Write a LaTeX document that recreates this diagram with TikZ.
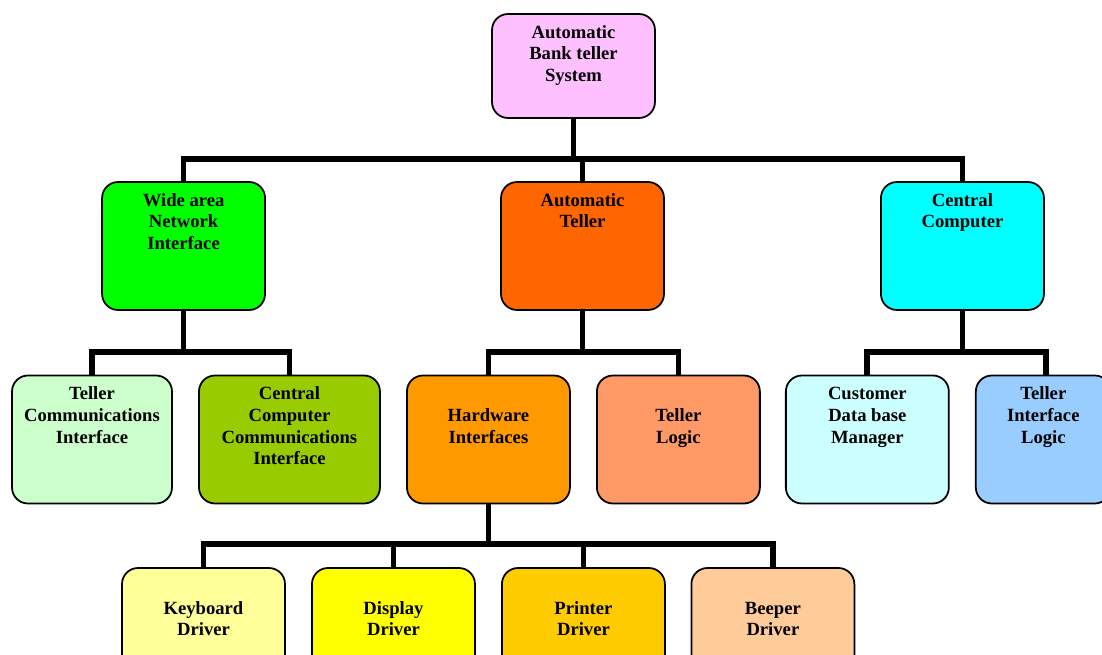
\documentclass[tikz,border=0pt]{standalone}
\usepackage{fontspec}
\setmainfont{Liberation Serif}
\usepackage{xcolor}
\usepackage{tikz}

\definecolor{cRoot}{HTML}{FFC0FF}
\definecolor{cWAN}{HTML}{00FF00}
\definecolor{cAT}{HTML}{FF6600}
\definecolor{cCC}{HTML}{00FFFF}
\definecolor{cTCI}{HTML}{CCFFCC}
\definecolor{cCCCI}{HTML}{99CC00}
\definecolor{cHW}{HTML}{FF9900}
\definecolor{cTL}{HTML}{FF9966}
\definecolor{cCDB}{HTML}{CCFFFF}
\definecolor{cTIL}{HTML}{99CCFF}
\definecolor{cKBD}{HTML}{FFFF99}
\definecolor{cDISP}{HTML}{FFFF00}
\definecolor{cPRN}{HTML}{FFCC00}
\definecolor{cBPR}{HTML}{FFCC99}

\newcommand{\boxtext}[1]{\begin{tabular}[t]{@{}c@{}}#1\end{tabular}}

\tikzset{
  blk/.style={draw, line width=1pt, rounded corners=3.2mm, inner sep=0pt,
    minimum width=3.26cm, text height=0.48cm, text depth=2.08cm,
    font=\fontsize{10.6}{12.4}\selectfont\bfseries},
  low/.style={text height=0.92cm, text depth=1.64cm},
  link/.style={line width=1.15mm}
}

\begin{document}
\begin{tikzpicture}[x=0.02cm, y=-0.02cm]
\useasboundingbox (0,0) rectangle (1102,655);
% Top level
\node[blk, fill=cRoot, text depth=1.6cm] (root) at (573.5,66) {\boxtext{Automatic\\Bank teller\\System}};

% Second level
\node[blk, fill=cAT] (at) at (582.5,246) {\boxtext{Automatic\\Teller}};
\node[blk, fill=cWAN, left of=at, node distance=7.98cm] (wan) {\boxtext{Wide area\\Network\\Interface}};
\node[blk, fill=cCC, right of=at, node distance=7.6cm] (cc) {\boxtext{Central\\Computer}};

% Third level
\node[blk, fill=cTCI, minimum width=3.2cm] (tci) at (92,439.5) {\boxtext{Teller\\Communications\\Interface}};
\node[blk, fill=cCCCI, minimum width=3.62cm, right of=tci, node distance=3.95cm] (ccci) {\boxtext{Central\\Computer\\Communications\\Interface}};
\node[blk, low, fill=cHW, right of=ccci, node distance=3.98cm] (hw) {\boxtext{Hardware\\Interfaces}};
\node[blk, low, fill=cTL, right of=hw, node distance=3.8cm] (tl) {\boxtext{Teller\\Logic}};
\node[blk, fill=cCDB, right of=tl, node distance=3.78cm] (cdb) {\boxtext{Customer\\Data base\\Manager}};
\node[blk, fill=cTIL, minimum width=2.7cm, right of=cdb, node distance=3.52cm] (til) {\boxtext{Teller\\Interface\\Logic}};

% Fourth level
\node[blk, low, fill=cKBD] (kbd) at (203.5,632) {\boxtext{Keyboard\\Driver}};
\node[blk, low, fill=cDISP, right of=kbd, node distance=3.8cm] (disp) {\boxtext{Display\\Driver}};
\node[blk, low, fill=cPRN, right of=disp, node distance=3.8cm] (prn) {\boxtext{Printer\\Driver}};
\node[blk, low, fill=cBPR, right of=prn, node distance=3.79cm] (bpr) {\boxtext{Beeper\\Driver}};

% Connectors
\coordinate (bar0) at (0,159);
\coordinate (bar1) at (0,352);
\coordinate (bar2) at (0,544);
\coordinate (tiltop) at ([xshift=0.05cm]til.north);
\draw[link] (root.south) -- (root.south |- bar0);
\draw[link] (wan.north) |- (cc.north |- bar0) -- (cc.north);
\draw[link] (at.north) -- (at.north |- bar0);

\draw[link] (wan.south) -- (wan.south |- bar1);
\draw[link] (tci.north) |- (ccci.north |- bar1) -- (ccci.north);
\draw[link] (at.south) -- (at.south |- bar1);
\draw[link] (hw.north) |- (tl.north |- bar1) -- (tl.north);
\draw[link] (cc.south) -- (cc.south |- bar1);
\draw[link] (cdb.north) |- (tiltop |- bar1) -- (tiltop);

\draw[link] (hw.south) -- (hw.south |- bar2);
\draw[link] (kbd.north) |- (bpr.north |- bar2) -- (bpr.north);
\draw[link] (disp.north) -- (disp.north |- bar2);
\draw[link] (prn.north) -- (prn.north |- bar2);
\end{tikzpicture}
\end{document}
